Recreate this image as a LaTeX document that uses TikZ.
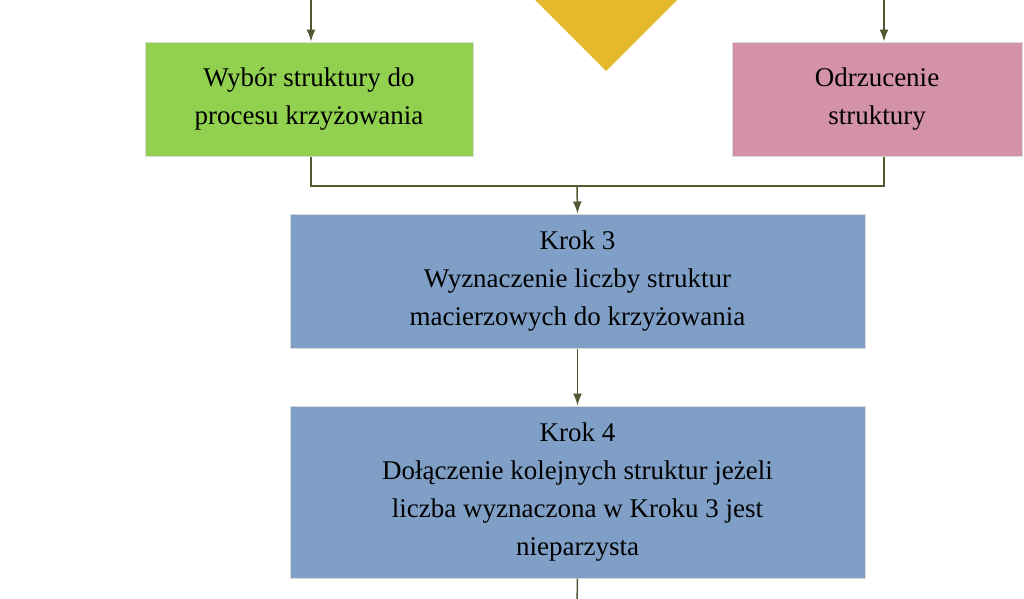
\documentclass[tikz,border=0pt]{standalone}
\usepackage{fontspec}
\setmainfont{Liberation Serif}
\usetikzlibrary{arrows.meta,shapes.geometric}
\definecolor{gr}{HTML}{92D050}
\definecolor{pk}{HTML}{D492A6}
\definecolor{bl}{HTML}{7F9FC7}
\definecolor{ye}{HTML}{E6B82B}
\definecolor{ln}{HTML}{4F5A32}
\tikzset{
 box/.style={draw=white!85!black,line width=1pt,inner sep=0pt,align=center,font=\fontsize{27}{38}\selectfont},
 conn/.style={draw=ln,line width=1.5pt},
 arr/.style={conn,-{Latex[length=12pt,width=9pt]}}
}
\begin{document}
\begin{tikzpicture}[x=1pt,y=-1pt]
\useasboundingbox (0,0) rectangle (1024,598);
\clip (0,0) rectangle (1024,598);
\fill[white] (0,0) rectangle (1024,598);
\fill[ye] (606,71) -- (677,0) -- (606,-71) -- (535,0) -- cycle;
\node[box,fill=gr,minimum width=328pt,minimum height=114pt] (g) at (309,99) {Wybór struktury do\\procesu krzyżowania};
\node[box,fill=pk,minimum width=290pt,minimum height=114pt] (p) at (877,99) {Odrzucenie\\struktury};
\node[box,fill=bl,minimum width=575pt,minimum height=134pt] (k3) at (577.5,281) {Krok 3\\Wyznaczenie liczby struktur\\macierzowych do krzyżowania};
\node[box,fill=bl,minimum width=575pt,minimum height=172pt] (k4) at (577.5,492) {Krok 4\\Dołączenie kolejnych struktur jeżeli\\liczba wyznaczona w Kroku 3 jest\\nieparzysta};
\coordinate (tg) at (311,-5);
\coordinate (tp) at (884,-5);
\coordinate (j) at (577,186);
\coordinate (e) at (577,605);
\draw[arr] (tg) -- (311,0 |- g.north);
\draw[arr] (tp) -- (884,0 |- p.north);
\draw[conn] (311,0 |- g.south) |- (j);
\draw[conn] (884,0 |- p.south) |- (j);
\draw[arr] (j) -- (k3.north);
\draw[arr] (k3.south) -- (k4.north);
\draw[conn] (k4.south) -- (e);
\end{tikzpicture}
\end{document}
